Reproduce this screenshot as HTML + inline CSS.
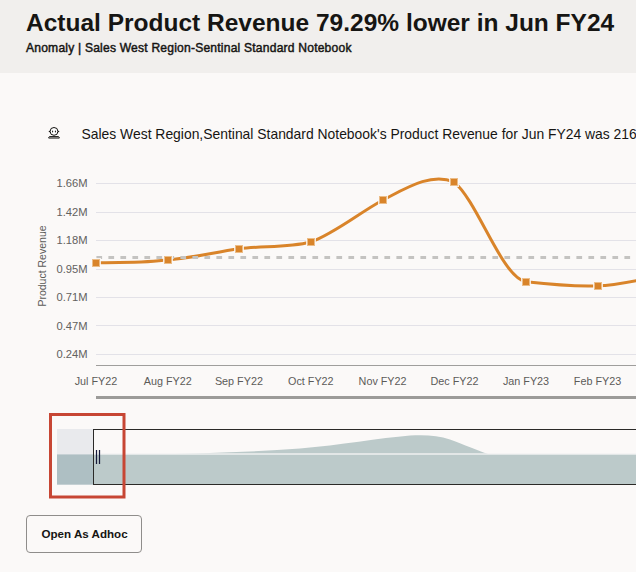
<!DOCTYPE html>
<html><head><meta charset="utf-8">
<style>
html,body{margin:0;padding:0;}
body{width:636px;height:572px;overflow:hidden;background:#fbf9f8;position:relative;font-family:"Liberation Sans",sans-serif;}
.hdr{position:absolute;left:0;top:0;width:636px;height:73px;background:#f1efed;}
.title{position:absolute;left:26px;top:8px;font-size:24.5px;font-weight:700;color:#161513;white-space:nowrap;line-height:30px;}
.sub{position:absolute;left:26px;top:40.5px;font-size:12.1px;font-weight:400;-webkit-text-stroke:0.45px #161513;letter-spacing:0.2px;color:#161513;white-space:nowrap;line-height:14px;}
.narr{position:absolute;left:81.5px;top:126px;font-size:13.9px;color:#161513;white-space:nowrap;line-height:17px;}
.btn{position:absolute;left:26px;top:515px;width:116px;height:38px;border:1px solid #8f8d8b;border-radius:4px;box-sizing:border-box;}
.btn span{position:absolute;left:14.5px;top:11px;font-size:11.6px;font-weight:700;color:#161513;white-space:nowrap;line-height:14px;}
svg{position:absolute;left:0;top:0;}
svg text{font-family:"Liberation Sans",sans-serif;}
</style></head><body>
<div class="hdr"></div>
<div class="title">Actual Product Revenue 79.29% lower in Jun FY24</div>
<div class="sub">Anomaly | Sales West Region-Sentinal Standard Notebook</div>
<div class="narr">Sales West Region,Sentinal Standard Notebook's Product Revenue for Jun FY24 was 216,449.83, which is 79.29% lower than expected.</div>
<svg width="636" height="572" viewBox="0 0 636 572">
 <!-- icon -->
 <g>
  <circle cx="54" cy="131.4" r="3.9" fill="#fff" stroke="#161513" stroke-width="1"/>
  <path d="M50.1,130.4 L48.4,131.5 L50.1,132.6 Z M57.9,130.4 L59.6,131.5 L57.9,132.6 Z" fill="#161513"/>
  <ellipse cx="52.6" cy="131.5" rx="0.55" ry="1.1" fill="#161513"/>
  <ellipse cx="55.4" cy="131.5" rx="0.55" ry="1.1" fill="#161513"/>
  <path d="M49.6,136.5 H58.4 L59.3,137.3 V138.1 H48.7 V137.3 Z" fill="#b3b2b0" stroke="#161513" stroke-width="0.9"/>
 </g>
 <!-- gridlines -->
 <g stroke="#e3e2e8" stroke-width="1">
  <line x1="96" x2="636" y1="183.5" y2="183.5"/>
  <line x1="96" x2="636" y1="212.5" y2="212.5"/>
  <line x1="96" x2="636" y1="240.5" y2="240.5"/>
  <line x1="96" x2="636" y1="269.5" y2="269.5"/>
  <line x1="96" x2="636" y1="297.5" y2="297.5"/>
  <line x1="96" x2="636" y1="325.5" y2="325.5"/>
  <line x1="96" x2="636" y1="354.5" y2="354.5"/>
 </g>
 <line x1="96" x2="636" y1="365.5" y2="365.5" stroke="#9f9e9c" stroke-width="1"/>
 <rect x="96" y="396" width="540" height="3" fill="#9c9b99"/>
 <g font-size="11.2" fill="#62615e" text-anchor="end">
  <text x="87.5" y="187">1.66M</text>
  <text x="87.5" y="215.5">1.42M</text>
  <text x="87.5" y="244">1.18M</text>
  <text x="87.5" y="272.5">0.95M</text>
  <text x="87.5" y="301">0.71M</text>
  <text x="87.5" y="329.5">0.47M</text>
  <text x="87.5" y="358">0.24M</text>
 </g>
 <text transform="translate(46,266) rotate(-90)" font-size="10.5" fill="#5c5b58" text-anchor="middle">Product Revenue</text>
 <g font-size="10.8" fill="#5c5b58" text-anchor="middle">
  <text x="96" y="385">Jul FY22</text>
  <text x="167.8" y="385">Aug FY22</text>
  <text x="238.9" y="385">Sep FY22</text>
  <text x="310.8" y="385">Oct FY22</text>
  <text x="382.6" y="385">Nov FY22</text>
  <text x="454.5" y="385">Dec FY22</text>
  <text x="526" y="385">Jan FY23</text>
  <text x="597.5" y="385">Feb FY23</text>
 </g>
 <path d="M96.0,262.8 C120.0,261.9 144.0,263.4 168.0,259.8 C191.7,258.0 215.3,252.0 239.0,248.7 C263.0,245.7 287.0,247.9 311.0,242.0 C335.0,233.1 359.0,213.0 383.0,200.0 C406.7,187.8 430.3,172.7 454.0,181.8 C478.0,201.7 502.0,277.9 526.0,281.8 C550.0,284.5 574.0,286.7 598.0,285.8 C621.8,285.2 645.7,277.6 669.5,275.0" fill="none" stroke="#d9842a" stroke-width="3"/>
 <line x1="96.4" x2="636" y1="257.5" y2="257.5" stroke="#c4c3c1" stroke-width="3" stroke-dasharray="5.7 6.3"/>
 <g>
  <rect x="91" y="258" width="10" height="10" fill="#fbf9f8" fill-opacity="0.85"/><rect x="92" y="259" width="8" height="8" fill="#ebbd88"/><rect x="93" y="260" width="6" height="6" fill="#d9842a"/>
  <rect x="163" y="255" width="10" height="10" fill="#fbf9f8" fill-opacity="0.85"/><rect x="164" y="256" width="8" height="8" fill="#ebbd88"/><rect x="165" y="257" width="6" height="6" fill="#d9842a"/>
  <rect x="234" y="244" width="10" height="10" fill="#fbf9f8" fill-opacity="0.85"/><rect x="235" y="245" width="8" height="8" fill="#ebbd88"/><rect x="236" y="246" width="6" height="6" fill="#d9842a"/>
  <rect x="306" y="237" width="10" height="10" fill="#fbf9f8" fill-opacity="0.85"/><rect x="307" y="238" width="8" height="8" fill="#ebbd88"/><rect x="308" y="239" width="6" height="6" fill="#d9842a"/>
  <rect x="378" y="195" width="10" height="10" fill="#fbf9f8" fill-opacity="0.85"/><rect x="379" y="196" width="8" height="8" fill="#ebbd88"/><rect x="380" y="197" width="6" height="6" fill="#d9842a"/>
  <rect x="449" y="177" width="10" height="10" fill="#fbf9f8" fill-opacity="0.85"/><rect x="450" y="178" width="8" height="8" fill="#ebbd88"/><rect x="451" y="179" width="6" height="6" fill="#d9842a"/>
  <rect x="521" y="277" width="10" height="10" fill="#fbf9f8" fill-opacity="0.85"/><rect x="522" y="278" width="8" height="8" fill="#ebbd88"/><rect x="523" y="279" width="6" height="6" fill="#d9842a"/>
  <rect x="593" y="281" width="10" height="10" fill="#fbf9f8" fill-opacity="0.85"/><rect x="594" y="282" width="8" height="8" fill="#ebbd88"/><rect x="595" y="283" width="6" height="6" fill="#d9842a"/>
 </g>
 <!-- overview -->
 <rect x="57" y="429" width="579" height="26" fill="#fbf9f8"/>
 <rect x="57" y="454.5" width="579" height="30" fill="#bccaca"/>
 <path d="M175,454 C220,452.8 260,451.5 300,448.6 C340,445 380,438 410,435.5 C425,434.6 438,435.3 450,439.5 C465,445 476,450 488,454 Z" fill="#bccaca"/>
 <line x1="57" x2="636" y1="453.8" y2="453.8" stroke="#f3f3f3" stroke-width="1"/>
 <rect x="57" y="429" width="36.5" height="55.5" fill="#dfe1e6" fill-opacity="0.6"/>
 <rect x="57" y="454.5" width="36.5" height="30" fill="#aebfc3"/>
 <rect x="57" y="429" width="36.5" height="25" fill="#e9eaed"/>
 <path d="M93.5,429.5 H640 M93.5,429 V485 M93.5,484.5 H640" stroke="#2b2a28" stroke-width="1" fill="none"/>
 <g stroke="#161a3a" stroke-width="1.25">
  <line x1="96.5" x2="96.5" y1="450" y2="464"/>
  <line x1="99.5" x2="99.5" y1="450" y2="464"/>
 </g>
 <rect x="50.5" y="414.5" width="73.5" height="82.5" fill="none" stroke="#c74634" stroke-width="3"/>
</svg>
<div class="btn"><span>Open As Adhoc</span></div>
</body></html>
